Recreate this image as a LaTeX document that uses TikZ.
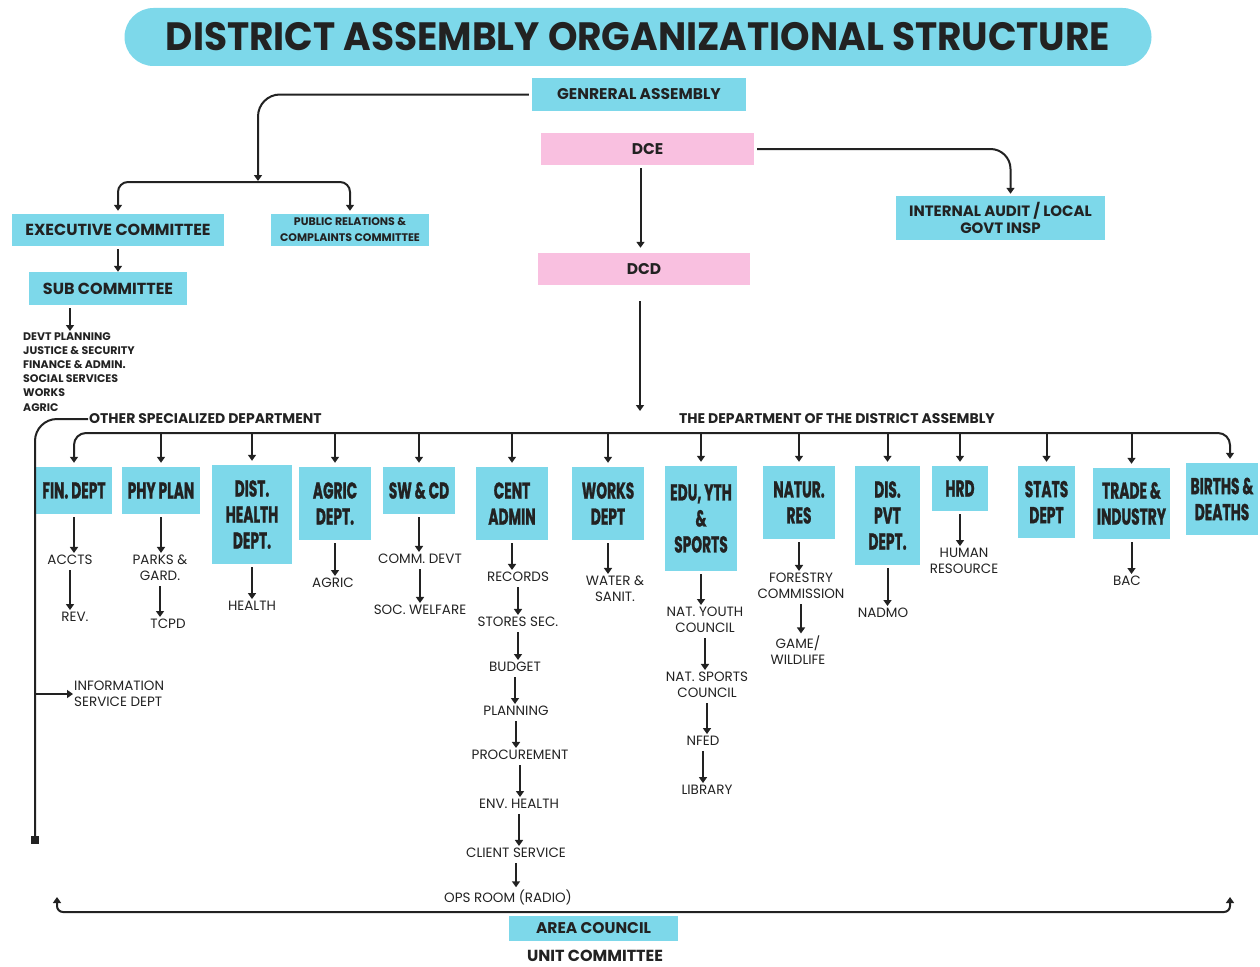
\documentclass[tikz,border=0pt]{standalone}
\usepackage{fontspec}
\setmainfont{Poppins}
\newfontfamily\titlefont{Poppins}[FakeStretch=0.95]
\newfontfamily\deptfont{Poppins}[FakeStretch=0.6, FakeBold=1]
\usepackage{xcolor}
\usetikzlibrary{arrows.meta,positioning,calc}
\definecolor{cyanbox}{RGB}{125,216,234}
\definecolor{pinkbox}{RGB}{249,192,224}
\definecolor{ink}{RGB}{34,34,34}
\newcommand{\fsz}[2]{\fontsize{#1}{#2}\selectfont}
\tikzset{%
  % classes
  box/.style={fill=cyanbox, text=ink, align=center, inner sep=0pt},
  pbox/.style={box, fill=pinkbox},
  head/.style={box, font=\bfseries\fsz{15.5}{17}},
  dept/.style={box, font=\deptfont\bfseries\fsz{23}{26}},
  unitlbl/.style={text=ink, align=center, inner sep=2pt, font=\fsz{13.5}{16}},
  tag/.style={text=ink, inner sep=1pt, font=\bfseries\fsz{14}{16}},
  % edge styles
  line/.style={draw=ink, line width=2pt},
  rel/.style={line, -{Triangle[width=8pt,length=6pt]}, shorten <=3pt},
  birel/.style={line, {Triangle[width=8pt,length=6pt]}-{Triangle[width=8pt,length=6pt]}},
}
\begin{document}
\begin{tikzpicture}[x=1pt, y=-1pt]
  \useasboundingbox (0,0) rectangle (1260,966);
  \node[box, rounded corners=29pt, minimum width=1027pt, minimum height=58pt,
    font=\titlefont\bfseries\fsz{39.5}{40}] (title) at (638,37)
    {DISTRICT ASSEMBLY ORGANIZATIONAL STRUCTURE};

  % top of the chart
  \node[head, minimum width=214pt, minimum height=33pt] (ga) at (639,94.5) {GENRERAL ASSEMBLY};
  \node[head, pbox, minimum width=213pt, minimum height=32pt] (dce) at (647.5,149) {DCE};
  \node[head, pbox, minimum width=212pt, minimum height=32pt] (dcd) at (644,269) {DCD};
  \node[head, minimum width=209pt, minimum height=44pt, font=\bfseries\fsz{15}{17}] (audit) at (1000.5,218)
    {INTERNAL AUDIT / LOCAL\\GOVT INSP};
  \node[head, minimum width=212pt, minimum height=32pt, font=\bfseries\fsz{16}{17}] (exec) at (118,230) {EXECUTIVE COMMITTEE};
  \node[head, minimum width=158pt, minimum height=32pt, font=\bfseries\fsz{11}{16}] (pr) at (350,230)
    {PUBLIC RELATIONS \&\\COMPLAINTS COMMITTEE};
  \node[head, minimum width=158pt, minimum height=33pt, font=\bfseries\fsz{16}{17}] (sub) at (108,288.5) {SUB COMMITTEE};
  \node[tag, anchor=north west, align=left, font=\bfseries\fsz{11}{14.2}] (list) at (22,331)
    {DEVT PLANNING\\JUSTICE \& SECURITY\\FINANCE \& ADMIN.\\SOCIAL SERVICES\\WORKS\\AGRIC};

  \coordinate (comsplit) at (258,182);
  \coordinate (deptjoin) at (640,411);
  \coordinate (bar) at (640,433);

  \draw[rel, rounded corners=22pt, shorten >=1pt] (ga.west) -| (comsplit);
  \draw[birel, rounded corners=10pt, shorten <=3pt, shorten >=3pt] (exec.north) |- (comsplit) -| (pr.north);
  \draw[rel] (exec.south) -- (exec.south |- sub.north);
  \draw[rel] ([xshift=-38pt]sub.south) -- ([xshift=-38pt]sub.south |- list.north);
  \draw[rel, rounded corners=20pt, shorten >=2pt] (dce.east) -| ([xshift=10pt]audit.north);
  \draw[rel, shorten >=5pt] ([xshift=-7pt]dce.south) -- ([xshift=-7pt]dce.south |- dcd.north);
  \draw[rel] ([xshift=-4pt,yshift=-13pt]dcd.south) -- (deptjoin);

  % departments
  \node[tag, anchor=west] (other) at (88,419) {OTHER SPECIALIZED DEPARTMENT};
  \node[tag] (deptlbl) at (837,419) {THE DEPARTMENT OF THE DISTRICT ASSEMBLY};

  \node[dept, minimum width=76pt, minimum height=47pt] (fin) at (74,490.5) {FIN. DEPT};
  \node[dept, minimum width=78pt, minimum height=47pt] (phy) at (161,490.5) {PHY PLAN};
  \node[dept, minimum width=80pt, minimum height=99pt] (health) at (252,514.5) {DIST.\\HEALTH\\DEPT.};
  \node[dept, minimum width=72pt, minimum height=73pt] (agricd) at (335,503.5) {AGRIC\\DEPT.};
  \node[dept, minimum width=72pt, minimum height=47pt] (swcd) at (419,490.5) {SW \& CD};
  \node[dept, minimum width=72pt, minimum height=73pt] (cent) at (512,503.5) {CENT\\ADMIN};
  \node[dept, minimum width=72pt, minimum height=73pt] (works) at (608,503.5) {WORKS\\DEPT};
  \node[dept, minimum width=72pt, minimum height=105pt] (edu) at (701,518.5) {EDU, YTH\\\&\\SPORTS};
  \node[dept, minimum width=72pt, minimum height=73pt] (natur) at (799,502.5) {NATUR.\\RES};
  \node[dept, minimum width=65pt, minimum height=99pt] (dispvt) at (887.5,515.5) {DIS.\\PVT\\DEPT.};
  \node[dept, minimum width=56pt, minimum height=45pt] (hrd) at (960,488.5) {HRD};
  \node[dept, minimum width=57pt, minimum height=72pt] (stats) at (1046.5,502) {STATS\\DEPT};
  \node[dept, minimum width=77pt, minimum height=71pt] (trade) at (1131.5,503.5) {TRADE \&\\INDUSTRY};
  \node[dept, minimum width=72pt, minimum height=72pt] (births) at (1222,499) {BIRTHS \&\\DEATHS};

  \draw[birel, rounded corners=12pt, shorten <=4pt, shorten >=4pt] (fin.north) |- (bar) -| ([xshift=8pt]births.north);
  \foreach \d in {phy,health,agricd,swcd,cent,works,edu,natur,dispvt,hrd,stats,trade}
    \draw[rel, shorten <=0pt, shorten >=4pt] (\d.north |- bar) -- (\d.north);

  % units under each department
  \node[unitlbl] (accts) at (70,560) {ACCTS};
  \node[unitlbl] (rev) at (75,617) {REV.};
  \node[unitlbl] (parks) at (160,568) {PARKS \&\\GARD.};
  \node[unitlbl] (tcpd) at (168,624) {TCPD};
  \node[unitlbl] (healthu) at (252,606) {HEALTH};
  \node[unitlbl] (agric) at (333,583) {AGRIC};
  \node[unitlbl] (comm) at (420,559) {COMM. DEVT};
  \node[unitlbl] (welfare) at (420,610) {SOC. WELFARE};
  \node[unitlbl] (records) at (518,577) {RECORDS};
  \node[unitlbl] (stores) at (518,622) {STORES SEC.};
  \node[unitlbl] (budget) at (515,667) {BUDGET};
  \node[unitlbl] (planning) at (516,711) {PLANNING};
  \node[unitlbl] (procure) at (520,755) {PROCUREMENT};
  \node[unitlbl] (envh) at (519,804) {ENV. HEALTH};
  \node[unitlbl] (client) at (516,853) {CLIENT SERVICE};
  \node[unitlbl] (ops) at (508,897) {OPS ROOM (RADIO)};
  \node[unitlbl] (water) at (615,589) {WATER \&\\SANIT.};
  \node[unitlbl] (youth) at (705,620) {NAT. YOUTH\\COUNCIL};
  \node[unitlbl] (sports) at (707,685) {NAT. SPORTS\\COUNCIL};
  \node[unitlbl] (nfed) at (703,741) {NFED};
  \node[unitlbl] (library) at (707,790) {LIBRARY};
  \node[unitlbl] (forestry) at (801,586) {FORESTRY\\COMMISSION};
  \node[unitlbl] (game) at (798,650) {GAME/\\WILDLIFE};
  \node[unitlbl] (nadmo) at (883,613) {NADMO};
  \node[unitlbl] (human) at (964,561) {HUMAN\\RESOURCE};
  \node[unitlbl] (bac) at (1127,581) {BAC};

  \foreach \a/\b in {fin/accts, accts/rev, phy/parks, parks/tcpd, health/healthu, agricd/agric,
      swcd/comm, comm/welfare, cent/records, records/stores, stores/budget, budget/planning,
      planning/procure, procure/envh, envh/client, client/ops, works/water, edu/youth,
      youth/sports, sports/nfed, nfed/library, natur/forestry, forestry/game, dispvt/nadmo,
      hrd/human, trade/bac}
    \draw[rel] (\a.south) -- (\a.south |- \b.north);

  % other specialized department
  \node[fill=ink, minimum size=8pt, inner sep=0pt] (endsq) at (35,840) {};
  \node[unitlbl, anchor=west, align=left, inner sep=1pt] (info) at (73,694) {INFORMATION\\SERVICE DEPT};
  \draw[line, rounded corners=22pt] (other.west) -| (endsq.north);
  \draw[rel, shorten <=0pt] (endsq |- info.west) -- (info.west);

  % area council
  \coordinate (acl) at (57,897);
  \coordinate (acbar) at (640,912);
  \coordinate (acr) at (1230,897);
  \draw[birel, rounded corners=6pt] (acl) |- (acbar) -| (acr);
  \node[head, minimum width=169pt, minimum height=25pt] (area) at (593.5,928.5) {AREA COUNCIL};
  \node[tag, font=\bfseries\fsz{16}{17}] (unit) at (595,956) {UNIT COMMITTEE};
\end{tikzpicture}
\end{document}
